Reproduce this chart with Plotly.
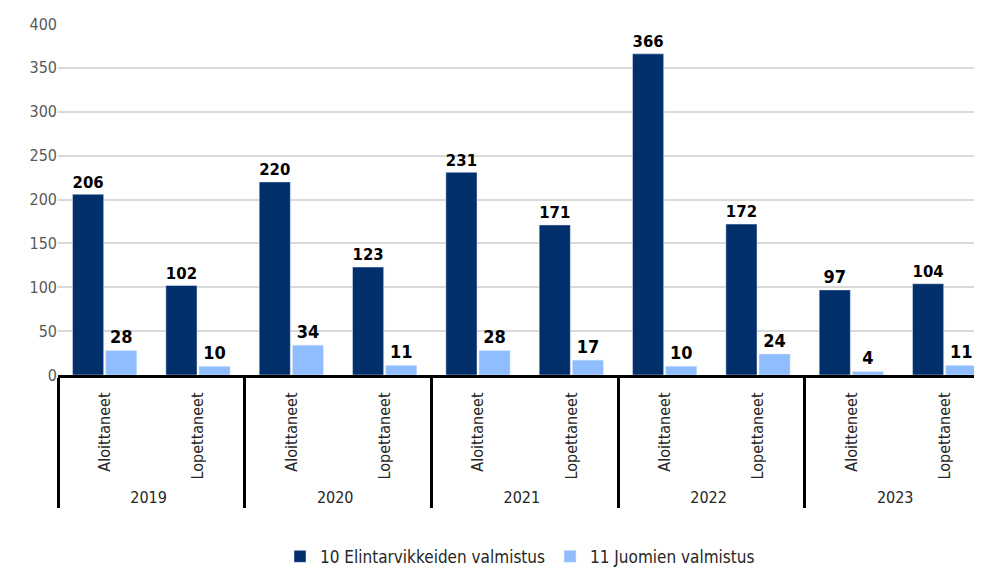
import plotly.graph_objects as go

years = ["2019", "2019", "2020", "2020", "2021", "2021", "2022", "2022", "2023", "2023"]
kinds = ["Aloittaneet", "Lopettaneet", "Aloittaneet", "Lopettaneet", "Aloittaneet", "Lopettaneet",
         "Aloittaneet", "Lopettaneet", "Aloitteneet", "Lopettaneet"]
food = [206, 102, 220, 123, 231, 171, 366, 172, 97, 104]
drinks = [28, 10, 34, 11, 28, 17, 10, 24, 4, 11]
series_names = ["10 Elintarvikkeiden valmistus", "11 Juomien valmistus"]
y_ticks = [0, 50, 100, 150, 200, 250, 300, 350, 400]

FONT = "DejaVu Sans Condensed, Liberation Sans Narrow, Roboto, sans-serif"

# Plotly orders multicategory inner labels by first appearance; feed all "Aloit..."
# entries first so that 2023's "Aloitteneet" is placed before "Lopettaneet".
order = sorted(range(len(years)), key=lambda i: kinds[i].startswith("Lop"))
x_outer = [years[i] for i in order]
x_inner = [kinds[i] for i in order]

fig = go.Figure()
for vals, name, color in [(food, series_names[0], "#002F6C"), (drinks, series_names[1], "#8FBDFE")]:
    v = [vals[i] for i in order]
    fig.add_trace(go.Bar(
        x=[x_outer, x_inner], y=v, name=name,
        marker_color=color,
        text=v, textposition="outside", cliponaxis=False,
        textfont=dict(family=FONT, size=18, color="black", weight="bold"),
    ))

fig.update_layout(
    width=982, height=575,
    margin=dict(l=50, r=8, t=16, b=208),
    plot_bgcolor="white", paper_bgcolor="white",
    barmode="group", bargap=0.29, bargroupgap=0.06,
    font=dict(family=FONT, size=16, color="#262626"),
    showlegend=True,
    legend=dict(orientation="h", x=0.5, xanchor="center", y=-0.518, yanchor="middle",
                font=dict(family=FONT, size=17, color="#262626"), itemwidth=30),
    xaxis=dict(
        type="multicategory", range=[-0.5, 9.4],
        tickangle=-90, showline=True, linecolor="black", linewidth=3,
        showdividers=True, dividercolor="black", dividerwidth=3,
        tickfont=dict(family=FONT, size=16, color="#262626"),
        ticks="", showgrid=False, automargin=False, ticklabelstandoff=8,
    ),
    yaxis=dict(
        range=[0, 400], tickvals=y_ticks, showgrid=True, gridcolor="#D9D9D9", gridwidth=1.5,
        zeroline=False, showline=False, ticks="", automargin=False,
        tickfont=dict(family=FONT, size=16, color="#595959"),
    ),
)

fig.write_html("out.html")
